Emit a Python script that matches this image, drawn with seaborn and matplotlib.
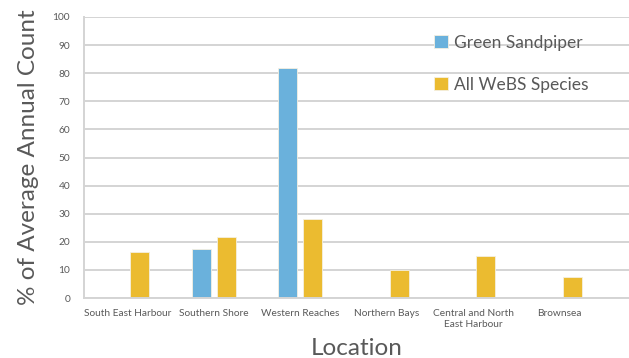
import pandas as pd
import numpy as np
import matplotlib
matplotlib.use("Agg")
import matplotlib.pyplot as plt
import seaborn as sns

locations = ["South East Harbour", "Southern Shore", "Western Reaches",
             "Northern Bays", "Central and North\nEast Harbour", "Brownsea"]
green_sandpiper = [0, 17.5, 82, 0, 0, 0]
all_webs = [16.5, 21.7, 28, 10, 14.8, 7.6]
series = ["Green Sandpiper", "All WeBS Species"]
colours = ["#6AB1DC", "#EBBB30"]

df = pd.DataFrame({
    "Location": locations * 2,
    "Value": green_sandpiper + all_webs,
    "Series": [series[0]] * 6 + [series[1]] * 6,
})

sns.set_theme(style="white")
plt.rcParams["font.family"] = ["Lato", "DejaVu Sans"]
grey = "#595959"
grid_grey = "#D4D4D4"

fig = plt.figure(figsize=(6.29, 3.58), dpi=100)
ax = fig.add_axes([84 / 629, 1 - 298 / 358, 545 / 629, (298 - 17) / 358])

sns.barplot(data=df, x="Location", y="Value", hue="Series", order=locations,
            hue_order=series, palette=colours, saturation=1, width=0.57, gap=0.23,
            edgecolor="#F5F0E0", linewidth=0.6, ax=ax)

ax.set_ylim(0, 100)
ax.set_xlim(-0.5, 5.8)
ax.set_yticks(range(0, 101, 10))

for s in ["top", "right"]:
    ax.spines[s].set_visible(False)
for s in ["left", "bottom"]:
    ax.spines[s].set_color(grid_grey)
    ax.spines[s].set_linewidth(1.4)

ax.tick_params(axis="both", length=0, labelsize=7.3, labelcolor=grey)
ax.tick_params(axis="y", pad=10)
ax.tick_params(axis="x", pad=8)
ax.set_xlabel("Location", fontsize=17.5, color=grey, labelpad=7)
ax.set_ylabel("% of Average Annual Count", fontsize=17.5, color=grey, labelpad=10)

leg = ax.legend(loc="upper left", bbox_to_anchor=(418 / 629, 1 - 19 / 358),
                bbox_transform=fig.transFigure, frameon=False, fontsize=12.5,
                labelspacing=1.5, handlelength=0.8, handleheight=0.8,
                handletextpad=0.4, labelcolor=grey)

ax.yaxis.grid(True, color=grid_grey, linewidth=1.4)
ax.set_axisbelow(True)

fig.savefig("out.png", dpi=100)

# check that the 90 gridline made it into the file
img = plt.imread("out.png")
px, py = ax.transData.transform((3.5, 90))
row = int(round(img.shape[0] - py))
col = int(round(px))
strip = img[row - 3:row + 4, col, :3].mean(axis=1)
if strip.min() > 0.95:
    gl = ax.yaxis.get_gridlines()
    info = [(g.get_visible(), g.get_color(), g.get_linewidth(), g.get_zorder(),
             g.get_linestyle(), g.get_alpha(), g.get_clip_on()) for g in gl[:2]]
    kids = [(type(c).__name__, c.get_zorder()) for c in ax.get_children()]
    raise RuntimeError(f"no grid row={row} col={col} strip={strip} shape={img.shape} "
                       f"info={info} kids={kids} kw={ax.yaxis._major_tick_kw}")
